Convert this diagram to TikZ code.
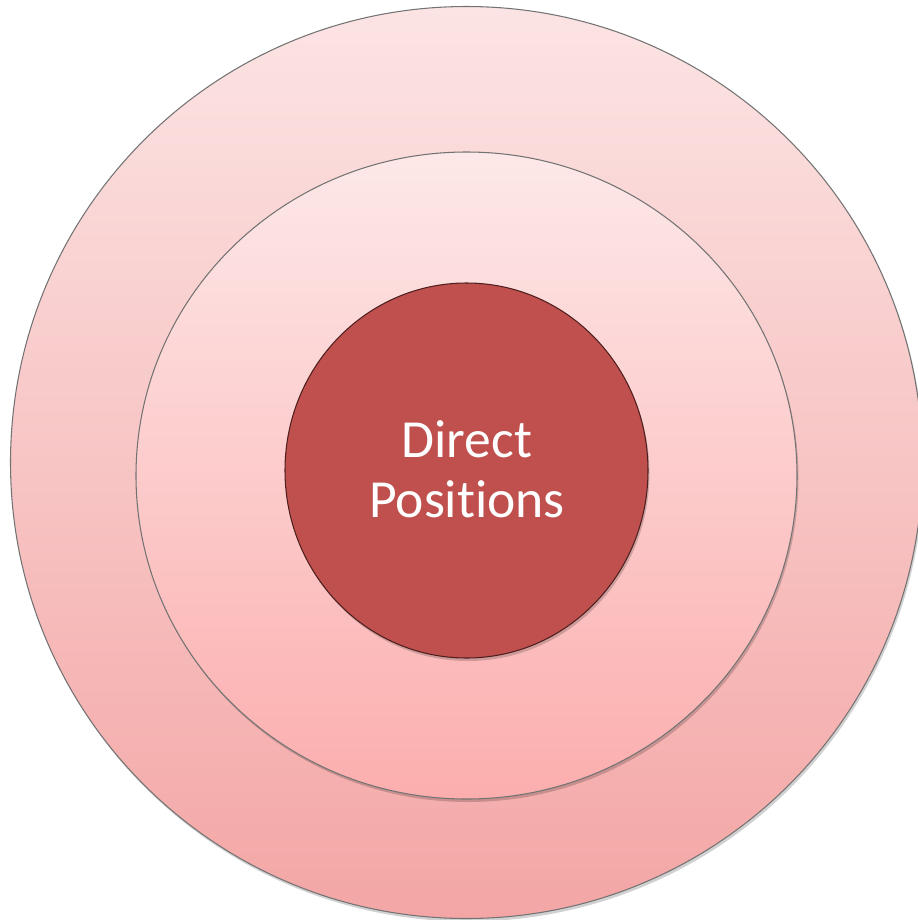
\documentclass[tikz,border=0pt]{standalone}
\usepackage{fontspec}
\setmainfont[RawFeature=-liga]{Carlito}
\usepackage{tikz}
\usetikzlibrary{calc}
\definecolor{ringout top}{RGB}{252,228,228}
\definecolor{ringout bot}{RGB}{243,166,165}
\definecolor{ringmid top}{RGB}{253,232,232}
\definecolor{ringmid bot}{RGB}{252,174,174}
\definecolor{corered}{RGB}{192,80,77}
\tikzset{ring/.style={draw=black!55, line width=0.6pt},
  ringshadow/.style={fill=black, opacity=0.18}}

\begin{document}
\begin{tikzpicture}[x=0.02cm, y=-0.02cm]
    \useasboundingbox (0,0) rectangle (918,920); \clip (0,0) rectangle (918,920);
    \coordinate (O) at (466.5,462.5); \coordinate (M) at (466.5,475.5); \coordinate (C) at
    (466.5,470.5); \fill [ringshadow] ($(O)+(1.5,3)$) circle [radius=456*0.02cm];
    \shadedraw [ring, top color=ringout top, bottom color=ringout bot] (O) circle
    [radius=456*0.02cm]; \fill [ringshadow] ($(M)+(1.5,3)$) ellipse [x radius=330.5*0.02cm,
    y radius=323.5*0.02cm]; \shadedraw [ring, top color=ringmid top, bottom color=ringmid bot]
    (M) ellipse [x radius=330.5*0.02cm, y radius=323.5*0.02cm]; \fill [ringshadow]
    ($(C)+(1.5,3)$) ellipse [x radius=181.5*0.02cm, y radius=187.5*0.02cm]; \filldraw
    [draw=black!60!corered, line width=0.6pt, fill=corered] (C) ellipse [x radius=181.5*0.02cm,
    y radius=187.5*0.02cm]; \node (core) [text=white, align=center,
    font=\fontsize{30.5}{34}\selectfont] at (467,469) {Direct\\Positions};
  \end{tikzpicture}
\end{document}
